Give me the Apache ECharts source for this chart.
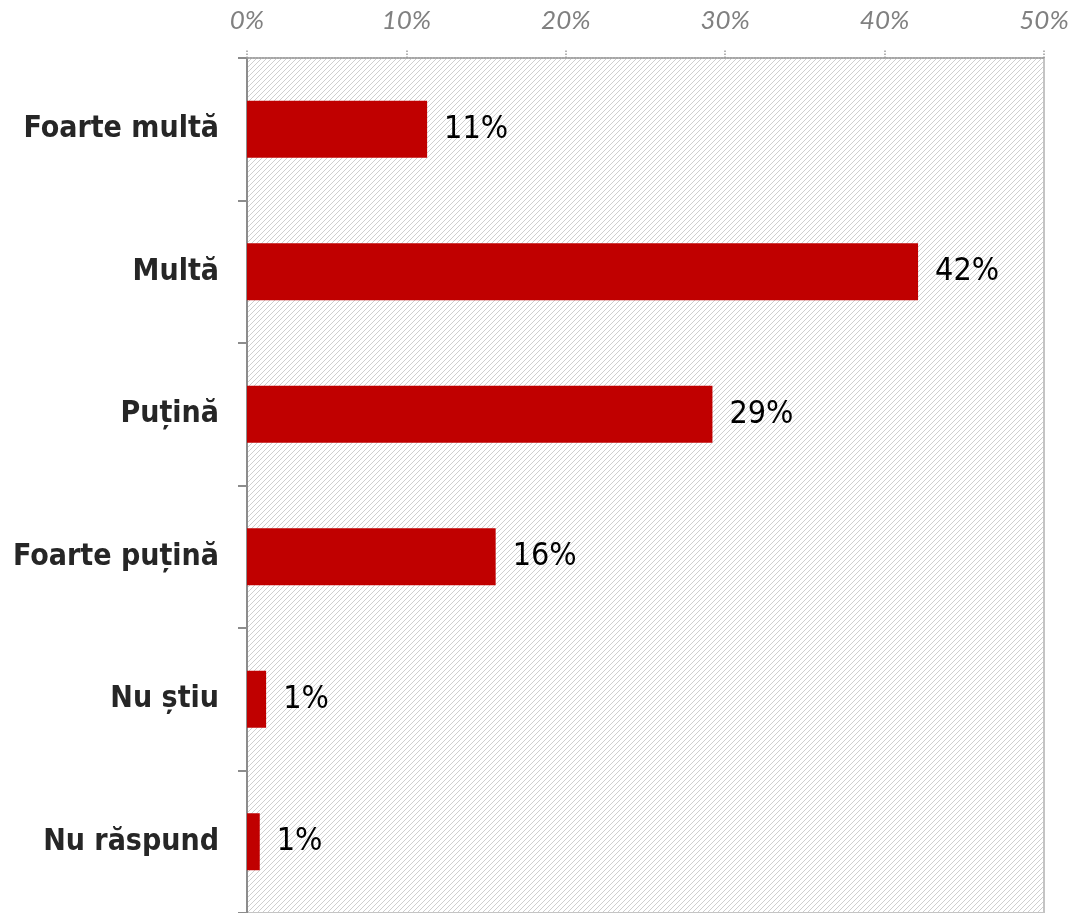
<!DOCTYPE html>
<html>
<head>
<meta charset="utf-8">
<script src="https://cdn.jsdelivr.net/npm/echarts@6/dist/echarts.min.js"></script>
<style>
  html, body { margin: 0; padding: 0; background: #fff; }
  #chart { width: 1079px; height: 913px; }
</style>
</head>
<body>
<div id="chart"></div>
<script>
// date
var categorii = ['Foarte multă', 'Multă', 'Puțină', 'Foarte puțină', 'Nu știu', 'Nu răspund']
var procente = [11.3, 42.1, 29.2, 15.6, 1.2, 0.8]
var etichete = ['11%', '42%', '29%', '16%', '1%', '1%']
var axaMax = 50
var axaPas = 10

// hasura diagonala pentru fundalul zonei de desen (pixel cu pixel)
function hasura () {
  var n = 5
  var c = document.createElement('canvas')
  c.width = n
  c.height = n
  var ctx = c.getContext('2d')
  ctx.fillStyle = '#cfcfcf'
  for (var i = 0; i < n; i++) {
    ctx.fillRect(i, n - 1 - i, 1, 1)
  }
  return c
}

var myChart = echarts.init(document.getElementById('chart'))
myChart.setOption({
  backgroundColor: '#fff',
  animation: false,
  grid: {
    left: 247,
    right: 35,
    top: 58,
    bottom: -3,
    show: true,
    backgroundColor: { image: hasura(), repeat: 'repeat' },
    borderColor: '#c4c4c4',
    borderWidth: 2
  },
  xAxis: {
    type: 'value',
    position: 'top',
    min: 0,
    max: axaMax,
    interval: axaPas,
    axisLine: { show: true, lineStyle: { color: '#9a9a9a', type: 'dotted', width: 1.5 } },
    axisTick: { show: true, length: 8, lineStyle: { color: '#9a9a9a', type: 'dotted', width: 1.5 } },
    splitLine: { show: false },
    axisLabel: {
      margin: 24,
      color: '#808080',
      fontFamily: 'Lato',
      fontStyle: 'italic',
      fontSize: 26,
      formatter: function (v) { return v + '%' }
    }
  },
  yAxis: {
    type: 'category',
    inverse: true,
    data: categorii,
    axisLine: { show: true, lineStyle: { color: '#8c8c8c', width: 2 } },
    axisTick: { show: true, length: 9, lineStyle: { color: '#8c8c8c', width: 2 } },
    axisLabel: {
      margin: 28,
      color: '#262626',
      fontFamily: "'DejaVu Sans Condensed', 'DejaVu Sans'",
      fontWeight: 'bold',
      fontSize: 30
    }
  },
  series: [
    {
      type: 'bar',
      data: procente,
      barWidth: 57,
      itemStyle: { color: '#c00000' },
      label: {
        show: true,
        position: 'right',
        distance: 17,
        color: '#000',
        fontFamily: "'DejaVu Sans Condensed', 'DejaVu Sans'",
        fontSize: 32,
        formatter: function (p) { return etichete[p.dataIndex] }
      }
    }
  ]
})
</script>
</body>
</html>
